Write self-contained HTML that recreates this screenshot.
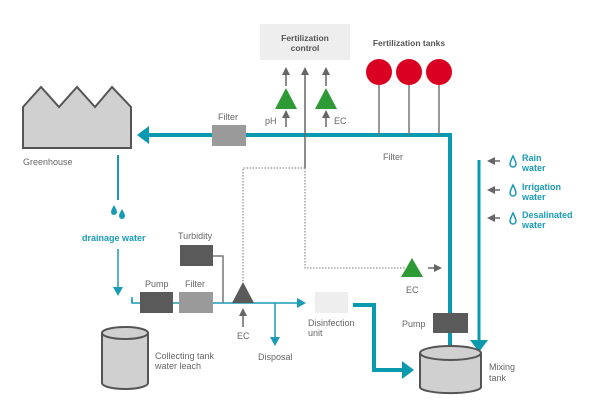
<!DOCTYPE html>
<html><head><meta charset="utf-8"><style>
body{margin:0;background:#fff}
svg{display:block;font-family:"Liberation Sans",sans-serif}
.t{fill:#666;font-size:9px}
.b{fill:#1a9bb5;font-size:9px;font-weight:bold}
</style></head><body>
<svg width="602" height="407" viewBox="0 0 602 407" xmlns="http://www.w3.org/2000/svg">
<defs>
<marker id="ga" markerWidth="8" markerHeight="8" refX="4" refY="4" orient="auto" markerUnits="userSpaceOnUse"><path d="M0,0 L8,4 L0,8z" fill="#666"/></marker>
<marker id="ba" markerWidth="9" markerHeight="10" refX="5" refY="5" orient="auto" markerUnits="userSpaceOnUse"><path d="M0,0 L9,5 L0,10z" fill="#1a9bb5"/></marker>
</defs>
<!-- greenhouse -->
<polygon points="23,107 41,87 59,107 77,87 95,107 112,87 131,107 131,148 23,148" fill="#d0d0d0" stroke="#555" stroke-width="2"/>
<text class="t" x="23" y="165">Greenhouse</text>
<!-- main pipe -->
<path d="M148,135 L450,135 L450,313" fill="none" stroke="#0a9ab0" stroke-width="4"/>
<path d="M137,135 L149,126 L149,144z" fill="#0a9ab0"/>
<rect x="212" y="125" width="34" height="21" fill="#9a9a9a"/>
<text class="t" x="218" y="120">Filter</text>
<text class="t" x="383" y="160">Filter</text>
<!-- fert control -->
<rect x="260" y="24" width="90" height="36" fill="#eee"/>
<text x="305" y="41" text-anchor="middle" font-size="8.5" font-weight="bold" fill="#555">Fertilization</text>
<text x="305" y="51" text-anchor="middle" font-size="8.5" font-weight="bold" fill="#555">control</text>
<g stroke="#666" stroke-width="1.5">
<line x1="286" y1="127" x2="286" y2="114" marker-end="url(#ga)"/>
<line x1="286" y1="86" x2="286" y2="71" marker-end="url(#ga)"/>
<line x1="326" y1="127" x2="326" y2="114" marker-end="url(#ga)"/>
<line x1="326" y1="86" x2="326" y2="71" marker-end="url(#ga)"/>
<line x1="305" y1="168" x2="305" y2="71" marker-end="url(#ga)"/>
</g>
<polygon points="286,88 297,109 275,109" fill="#2e9a35"/>
<polygon points="326,88 337,109 315,109" fill="#2e9a35"/>
<text class="t" x="265" y="124">pH</text>
<text class="t" x="334" y="124">EC</text>
<!-- tanks -->
<text x="409" y="46" text-anchor="middle" font-size="8.5" font-weight="bold" fill="#555">Fertilization tanks</text>
<g stroke="#777" stroke-width="1.5"><line x1="379" y1="72" x2="379" y2="135"/><line x1="409" y1="72" x2="409" y2="135"/><line x1="439" y1="72" x2="439" y2="135"/></g>
<circle cx="379" cy="72" r="13" fill="#d90022"/><circle cx="409" cy="72" r="13" fill="#d90022"/><circle cx="439" cy="72" r="13" fill="#d90022"/>
<!-- dotted -->
<path d="M305,168 L243,168 L243,283 M305,168 L305,268 L405,268" fill="none" stroke="#777" stroke-width="1" stroke-dasharray="1.5,1.5"/>
<!-- right water inputs -->
<line x1="479" y1="160" x2="479" y2="342" stroke="#0a9ab0" stroke-width="3"/>
<path d="M470,340 L488,340 L479,352z" fill="#0a9ab0"/>
<g stroke="#666" stroke-width="1.5">
<line x1="500" y1="161" x2="491" y2="161" marker-end="url(#ga)"/>
<line x1="500" y1="190" x2="491" y2="190" marker-end="url(#ga)"/>
<line x1="500" y1="218" x2="491" y2="218" marker-end="url(#ga)"/>
</g>
<g fill="none" stroke="#1a9bb5" stroke-width="1.5">
<path d="M513,156 Q510,162 510,164 A3,3 0 0 0 516,164 Q516,162 513,156z"/>
<path d="M513,185 Q510,191 510,193 A3,3 0 0 0 516,193 Q516,191 513,185z"/>
<path d="M513,213 Q510,219 510,221 A3,3 0 0 0 516,221 Q516,219 513,213z"/>
</g>
<text class="b" x="522" y="161">Rain</text><text class="b" x="522" y="171">water</text>
<text class="b" x="522" y="190">Irrigation</text><text class="b" x="522" y="200">water</text>
<text class="b" x="522" y="218">Desalinated</text><text class="b" x="522" y="228">water</text>
<!-- drainage -->
<line x1="118" y1="155" x2="118" y2="200" stroke="#1a9bb5" stroke-width="2"/>
<g fill="#1a9bb5"><path d="M114,205 Q111,210 111,212 A3,3 0 0 0 117,212 Q117,210 114,205z"/><path d="M122,209 Q119,214 119,216 A3,3 0 0 0 125,216 Q125,214 122,209z"/></g>
<text class="b" x="82" y="241">drainage water</text>
<line x1="118" y1="249" x2="118" y2="292" stroke="#1a9bb5" stroke-width="1.5" marker-end="url(#ba)"/>
<!-- collecting tank -->
<path d="M102,333 L102,383 A23,6 0 0 0 148,383 L148,333" fill="#d0d0d0" stroke="#555" stroke-width="2"/>
<ellipse cx="125" cy="333" rx="23" ry="6" fill="#d0d0d0" stroke="#555" stroke-width="2"/>
<text class="t" x="155" y="359">Collecting tank</text>
<text class="t" x="155" y="369">water leach</text>
<!-- lower line -->
<path d="M132,299 L132,303 L302,303" fill="none" stroke="#1a9bb5" stroke-width="1.5" marker-end="url(#ba)"/>
<path d="M132,303 L132,283" stroke="#fff" stroke-width="0"/>
<line x1="132" y1="303" x2="132" y2="297" stroke="#1a9bb5" stroke-width="1.5"/>
<rect x="140" y="292" width="33" height="21" fill="#5a5a5a"/>
<rect x="179" y="292" width="34" height="21" fill="#9a9a9a"/>
<text class="t" x="145" y="287">Pump</text><text class="t" x="185" y="287">Filter</text>
<rect x="180" y="245" width="33" height="21" fill="#5a5a5a"/>
<text class="t" x="178" y="239">Turbidity</text>
<path d="M213,256 L223,256 L223,303" fill="none" stroke="#777" stroke-width="1.5"/>
<polygon points="243,282 254,303 232,303" fill="#5a5a5a"/>
<line x1="243" y1="327" x2="243" y2="312" stroke="#666" stroke-width="1.5" marker-end="url(#ga)"/>
<text class="t" x="237" y="339">EC</text>
<line x1="275" y1="303" x2="275" y2="342" stroke="#1a9bb5" stroke-width="1.5" marker-end="url(#ba)"/>
<text class="t" x="258" y="360">Disposal</text>
<rect x="315" y="292" width="33" height="21" fill="#eee"/>
<text class="t" x="308" y="326">Disinfection</text><text class="t" x="308" y="336">unit</text>
<path d="M353,305 L374,305 L374,370 L404,370" fill="none" stroke="#0a9ab0" stroke-width="4"/>
<path d="M414,370 L402,361 L402,379z" fill="#0a9ab0"/>
<!-- EC right -->
<polygon points="412,258 423,277 401,277" fill="#2e9a35"/>
<line x1="428" y1="268" x2="438" y2="268" stroke="#666" stroke-width="1.5" marker-end="url(#ga)"/>
<text class="t" x="406" y="293">EC</text>
<!-- mixing tank -->
<line x1="450" y1="333" x2="450" y2="348" stroke="#0a9ab0" stroke-width="4"/>
<rect x="433" y="313" width="35" height="20" fill="#5a5a5a"/>
<text class="t" x="402" y="327">Pump</text>
<path d="M420,353 L420,387 A30,6 0 0 0 481,387 L481,353" fill="#d0d0d0" stroke="#555" stroke-width="2"/>
<ellipse cx="450.5" cy="353" rx="30.5" ry="7" fill="#d0d0d0" stroke="#555" stroke-width="2"/>
<text class="t" x="489" y="370">Mixing</text><text class="t" x="489" y="381">tank</text>
</svg>
</body></html>
